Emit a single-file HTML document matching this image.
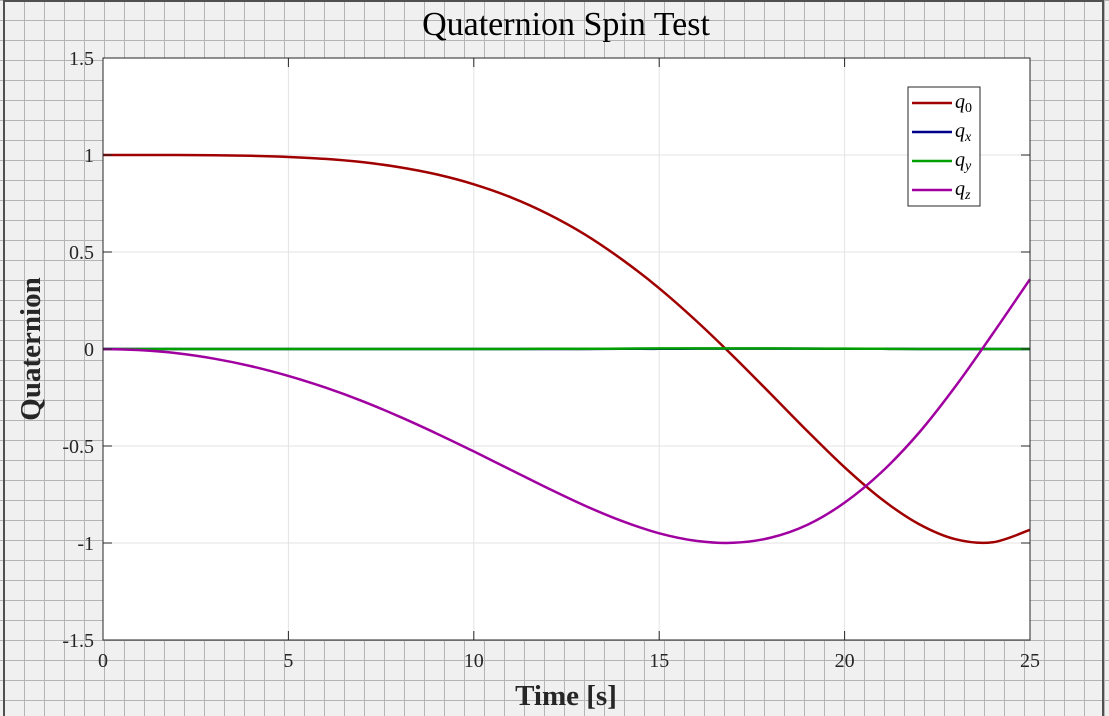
<!DOCTYPE html>
<html><head><meta charset="utf-8"><style>
html,body{margin:0;padding:0;background:#f0f0f0;}
svg{display:block;font-family:"Liberation Serif",serif;}
</style></head><body>
<svg width="1109" height="716" viewBox="0 0 1109 716">
<defs>
<pattern id="bg" x="4" y="0" width="20" height="20" patternUnits="userSpaceOnUse">
<rect width="20" height="20" fill="#f0f0f0"/>
<path d="M0 0H20M0 0V20" stroke="#b4b4b4" stroke-width="2"/>
</pattern>
</defs>
<rect width="1109" height="716" fill="url(#bg)"/>
<rect x="4" y="1" width="1099" height="720" fill="none" stroke="#505050" stroke-width="2"/>
<rect x="103" y="58" width="927" height="582" fill="#fff"/>
<g id="grid"></g>
<g id="series"></g>
<rect x="103" y="58" width="927" height="582" fill="none" stroke="#262626" stroke-width="1"/>
<g id="ticks"></g>
<text x="566" y="35" font-size="34" text-anchor="middle" fill="#000">Quaternion Spin Test</text>
<text x="566" y="705" font-size="29" font-weight="bold" text-anchor="middle" fill="#262626">Time [s]</text>
<text transform="translate(40,349) rotate(-90)" font-size="29" font-weight="bold" text-anchor="middle" fill="#262626">Quaternion</text>
<g>
<rect x="908" y="87" width="72" height="119" fill="#fff" stroke="#262626" stroke-width="1"/>
<g id="legend"></g>
</g>
</svg>
<script>
const times=[0,1,2,3,4,5,6,7,8,9,10,11,12,13,14,15,16,17,18,19,20,21,22,23,24,25];
const q0=[1,1,1,0.999,0.996,0.990,0.980,0.963,0.937,0.900,0.849,0.782,0.696,0.590,0.461,0.313,0.145,-0.038,-0.230,-0.424,-0.610,-0.774,-0.902,-0.981,-0.996,-0.932];
const qx=[0,0,0,0,0,0,0,0,0,0,0,0,0,0,0.001,0.001,0.002,0.002,0.002,0.002,0.001,0.001,0,0,0,0];
const qy=[0,0,0,0,0,0,0,0,0,0,0,0,0.001,0.001,0.002,0.003,0.003,0.003,0.003,0.002,0.002,0.001,0,0,0,0];
const qz=[0,-0.006,-0.022,-0.050,-0.089,-0.139,-0.199,-0.269,-0.349,-0.436,-0.528,-0.623,-0.718,-0.808,-0.887,-0.950,-0.989,-0.999,-0.973,-0.906,-0.792,-0.634,-0.433,-0.190,0.080,0.360];
const xTicks=[0,5,10,15,20,25];
const yTicks=[1.5,1,0.5,0,-0.5,-1,-1.5];
const yTickLabels=["1.5","1","0.5","0","-0.5","-1","-1.5"];
const seriesNames=["q0","qx","qy","qz"];
const seriesColors=["#a00000","#00008b","#00a000","#a000a0"];
const NS="http://www.w3.org/2000/svg";
const X=v=>103+(v-0)/25*927;
const Y=v=>58+(1.5-v)/3*582;
function mk(t,a,p){const e=document.createElementNS(NS,t);for(const k in a)e.setAttribute(k,a[k]);p.appendChild(e);return e;}
const grid=document.getElementById('grid'),ticks=document.getElementById('ticks');
xTicks.forEach(v=>{
 const g=mk('line',{x1:X(v),x2:X(v),y1:58,y2:640,stroke:'#e3e3e3','stroke-width':1},grid);
 
 
 mk('line',{x1:X(v),x2:X(v),y1:640,y2:631,stroke:'#262626'},ticks);
 mk('line',{x1:X(v),x2:X(v),y1:58,y2:67,stroke:'#262626'},ticks);
 const t=mk('text',{x:X(v),y:667,'font-size':20,'text-anchor':'middle',fill:'#262626'},ticks);
 t.textContent=v;
 
 
});
yTicks.forEach((v,i)=>{
 const g=mk('line',{x1:103,x2:1030,y1:Y(v),y2:Y(v),stroke:'#e3e3e3','stroke-width':1},grid);
 
 
 mk('line',{x1:103,x2:112,y1:Y(v),y2:Y(v),stroke:'#262626'},ticks);
 mk('line',{x1:1030,x2:1021,y1:Y(v),y2:Y(v),stroke:'#262626'},ticks);
 const t=mk('text',{x:94,y:Y(v)+7,'font-size':20,'text-anchor':'end',fill:'#262626'},ticks);
 t.textContent=yTickLabels[i];
 
 
});
function smooth(xs,ys){
 const p=xs.map((x,i)=>[X(x),Y(ys[i])]);
 let d='M'+p[0][0]+' '+p[0][1];
 for(let i=0;i<p.length-1;i++){
  const a=p[Math.max(0,i-1)],b=p[i],c=p[i+1],e=p[Math.min(p.length-1,i+2)];
  d+=' C'+(b[0]+(c[0]-a[0])/6)+' '+(b[1]+(c[1]-a[1])/6)+' '+(c[0]-(e[0]-b[0])/6)+' '+(c[1]-(e[1]-b[1])/6)+' '+c[0]+' '+c[1];
 }
 return d;
}
const ser=document.getElementById('series');
[q0,qx,qy,qz].forEach((s,i)=>{
 const p=mk('path',{d:smooth(times,s),fill:'none',stroke:seriesColors[i],'stroke-width':2.5},ser);
 
 
});
const leg=document.getElementById('legend');
const subs=["0","x","y","z"];
subs.forEach((s,i)=>{
 const y=103+i*29;
 const l=mk('line',{x1:912,x2:952,y1:y,y2:y,stroke:seriesColors[i],'stroke-width':2.5},leg);
 
 
 const t=mk('text',{x:955,y:y+5,'font-size':20,'font-style':'italic',fill:'#000'},leg);
 
 
 t.innerHTML='q<tspan font-size="14" dy="4" font-style="'+(s==="0"?'normal':'italic')+'">'+s+'</tspan>';
});
</script>
</body></html>
